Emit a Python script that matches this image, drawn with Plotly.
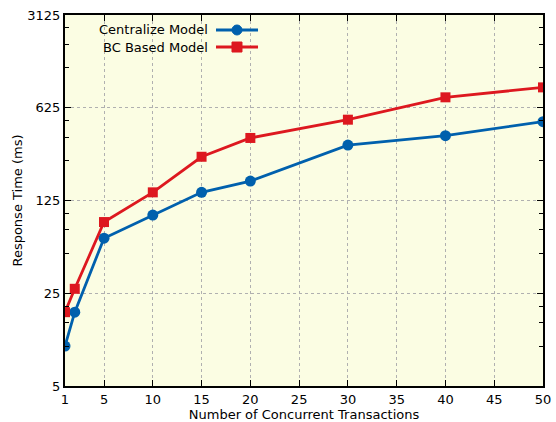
import plotly.graph_objects as go

transactions = [1, 2, 5, 10, 15, 20, 30, 40, 50]
centralize_ms = [10, 18, 65, 97, 144, 175, 327, 385, 491]
bc_based_ms = [18, 27, 86, 144, 267, 370, 508, 749, 890]

x_ticks = [1, 5, 10, 15, 20, 25, 30, 35, 40, 45, 50]
y_ticks = [5, 25, 125, 625, 3125]
y_minor = [10, 15, 20, 50, 75, 100, 250, 375, 500, 1250, 1875, 2500]

BLUE = "#0060ad"
RED = "#dd181f"
FONT = "DejaVu Sans"
FS = 13

fig = go.Figure()
fig.add_trace(go.Scatter(x=transactions, y=centralize_ms, mode="lines+markers",
                         name="Centralize Model", showlegend=False,
                         line=dict(color=BLUE, width=2.8),
                         marker=dict(symbol="circle", size=11, color=BLUE)))
fig.add_trace(go.Scatter(x=transactions, y=bc_based_ms, mode="lines+markers",
                         name="BC Based Model", showlegend=False,
                         line=dict(color=RED, width=2.8),
                         marker=dict(symbol="square", size=10, color=RED)))

axis_common = dict(showline=True, linecolor="black", linewidth=2, mirror="allticks",
                   ticks="inside", ticklen=6, tickwidth=1.2, tickcolor="black",
                   showgrid=True, gridcolor="#b0b0b0", griddash="dot", gridwidth=1,
                   zeroline=False, automargin=False,
                   tickfont=dict(family=FONT, size=FS, color="black"))

fig.update_xaxes(range=[1, 50], tickmode="array", tickvals=x_ticks,
                 ticktext=[str(v) for v in x_ticks],
                 title=dict(text="Number of Concurrent Transactions", standoff=0,
                            font=dict(family=FONT, size=FS, color="black")),
                 **axis_common)
fig.update_yaxes(type="log", range=[0.69897, 3.49485], tickmode="array", tickvals=y_ticks,
                 ticktext=[str(v) for v in y_ticks],
                 minor=dict(tickmode="array", tickvals=y_minor, ticks="inside", ticklen=4,
                            tickwidth=1.2, tickcolor="black", showgrid=False),
                 title=dict(text="Response Time (ms)", standoff=2,
                            font=dict(family=FONT, size=FS, color="black")),
                 **axis_common)

# Legend drawn as text (left) + sample (right), gnuplot style
legend_rows = [("Centralize Model", BLUE, "circle", 0.9596),
               ("BC Based Model", RED, "square", 0.9137)]
for label, color, sym, yy in legend_rows:
    fig.add_annotation(x=0.3033, y=yy, xref="paper", yref="paper", text=label,
                       showarrow=False, xanchor="right", yanchor="middle",
                       font=dict(family=FONT, size=FS, color="black"))
    fig.add_shape(type="line", xref="paper", yref="paper", x0=0.3159, x1=0.4038,
                  y0=yy, y1=yy, line=dict(color=color, width=2.8))
    fig.add_shape(type="circle" if sym == "circle" else "rect", xref="paper", yref="paper",
                  xsizemode="pixel", ysizemode="pixel", xanchor=0.3598, yanchor=yy,
                  x0=-5, x1=5, y0=-5, y1=5, fillcolor=color, line=dict(color=color, width=1))

fig.update_layout(width=556, height=422, margin=dict(l=65, r=13, t=15, b=36),
                  paper_bgcolor="white", plot_bgcolor="#fbfde3",
                  font=dict(family=FONT, size=FS, color="black"))

fig.write_html("out.html", config={"displayModeBar": False},
               post_script="document.body.style.margin='0';document.body.style.overflow='hidden';")
